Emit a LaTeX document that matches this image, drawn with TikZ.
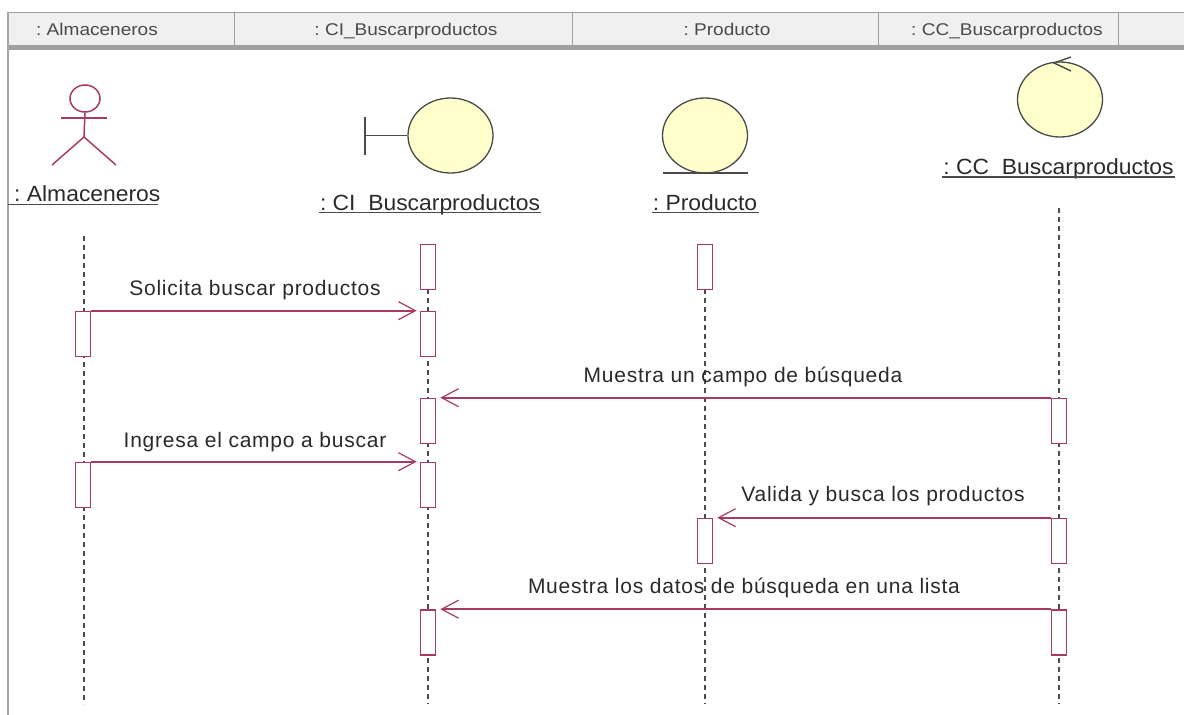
\documentclass[tikz,border=0pt]{standalone}
\usepackage{fontspec}
\setmainfont{Liberation Sans}
\usetikzlibrary{arrows.meta,shapes.geometric}
\definecolor{umlred}{HTML}{A83A62}
\definecolor{umlgray}{HTML}{4A4A4A}
\definecolor{umlfill}{HTML}{FFFFCB}
\definecolor{headbg}{HTML}{F0F0F0}
\definecolor{txt}{HTML}{2A2A2A}
\newfontfamily\headfont[FakeStretch=1.12]{Liberation Sans}
\newfontfamily\msgfont[LetterSpace=3.6]{Liberation Sans}
\newfontfamily\namefont[FakeStretch=1.04]{Liberation Sans}
\tikzset{
  x=1pt,y=-1pt,
  headcell/.style={draw=gray!75,line width=1.2pt,fill=headbg,minimum height=33pt,inner sep=0pt,anchor=north west},
  headtext/.style={text=txt!85,font=\headfont\fontsize{17}{19}\selectfont,inner sep=0pt,anchor=base},
  activation/.style={draw=umlred,line width=1.6pt,fill=white,minimum width=15pt,minimum height=45pt,inner sep=0pt},
  lifeline/.style={draw=umlgray,line width=1.5pt,dash pattern=on 5pt off 4pt},
  msg/.style={draw=umlred,line width=1.6pt,-{Straight Barb[length=17pt,width=18pt,line width=1.2pt]}},
  msglabel/.style={text=txt,font=\msgfont\fontsize{21}{23}\selectfont,inner sep=0pt},
  objname/.style={text=txt,font=\namefont\fontsize{22}{24}\selectfont,inner sep=0pt},
  objline/.style={draw=umlgray,line width=1.4pt},
  robust/.style={ellipse,draw=umlgray,line width=1.3pt,fill=umlfill,minimum width=85pt,minimum height=75pt,inner sep=0pt},
  actorline/.style={draw=umlred,line width=1.5pt},
}
\begin{document}
\frenchspacing
\begin{tikzpicture}
\useasboundingbox (0,0) rectangle (1184,715);
\fill[white] (0,0) rectangle (1184,715);
% frame and header
\node[headcell,minimum width=226pt] (h1) at (8,12) {};
\node[headcell,minimum width=338pt] (h2) at (234,12) {};
\node[headcell,minimum width=306pt] (h3) at (572,12) {};
\node[headcell,minimum width=240pt] (h4) at (878,12) {};
\node[headcell,minimum width=66pt] (h5) at (1118,12) {};
\fill[gray!75] (8,45) rectangle (1184,50);
\draw[gray!70,line width=1.4pt] (8,12) -- (8,715);
\node[headtext] (t1) at (97,35) {: Almaceneros};
\node[headtext] (t2) at (406,35) {: CI\_Buscarproductos};
\node[headtext] (t3) at (727,35) {: Producto};
\node[headtext] (t4) at (1007,35) {: CC\_Buscarproductos};
% actor
\node[ellipse,draw=umlred,line width=1.5pt,minimum width=30pt,minimum height=27pt,inner sep=0pt] (head) at (85,98.5) {};
\coordinate (hipA) at (84,137);
\coordinate (armL) at (61,118);
\coordinate (armR) at (107,118);
\coordinate (legL) at (52,165);
\coordinate (legR) at (116,165);
\draw[actorline] (head.south) -- (hipA);
\draw[actorline] (armL) -- (armR);
\draw[actorline] (legL) -- (hipA) -- (legR);
% boundary
\node[robust] (ci) at (450.5,135.5) {};
\coordinate (ciBar) at (365,135.5);
\draw[objline] (365,117) -- (365,155);
\draw[objline] (ciBar) -- (ci.west);
% entity
\node[robust] (pr) at (705,135.5) {};
\draw[objline] (663,173) -- (748,173);
% control
\node[robust] (cc) at (1060,99.5) {};
\draw[objline] (1071,57) -- (1054,63) -- (1071,71);
% names
\node[objname,anchor=base west] (n1) at (14,201) {: Almaceneros};
\draw[objline] (8,204.5) -- (158,204.5);
\node[objname,anchor=base] (n2) at (430,210) {: CI\ \ Buscarproductos};
\draw[objline] (319,212.5) -- (541,212.5);
\node[objname,anchor=base] (n3) at (705,210) {: Producto};
\draw[objline] (652,212.5) -- (759,212.5);
\node[objname,anchor=base] (n4) at (1058.5,174) {: CC\ \ Buscarproductos};
\draw[objline] (942,177) -- (1175,177);
% lifelines
\coordinate (l1t) at (84,236);\coordinate (l1b) at (84,704);
\coordinate (l2t) at (428,244);\coordinate (l2b) at (428,704);
\coordinate (l3t) at (705,244);\coordinate (l3b) at (705,704);
\coordinate (l4t) at (1059,208);\coordinate (l4b) at (1059,704);
\draw[lifeline] (l1t) -- (l1b);
\draw[lifeline] (l2t) -- (l2b);
\draw[lifeline] (l3t) -- (l3b);
\draw[lifeline] (l4t) -- (l4b);
% activations
\node[activation] (a1) at (83,334) {};
\node[activation] (a2) at (83,485) {};
\node[activation] (b0) at (428,267) {};
\node[activation] (b1) at (428,334) {};
\node[activation] (b2) at (428,421) {};
\node[activation] (b3) at (428,485) {};
\node[activation] (b4) at (428,632.5) {};
\node[activation] (c0) at (705,267) {};
\node[activation] (c1) at (705,541) {};
\node[activation] (d1) at (1059,421) {};
\node[activation] (d2) at (1059,541) {};
\node[activation] (d3) at (1059,632.5) {};
% messages
\draw[msg,shorten >=3pt] (a1.north east) -- (b1.north west);
\draw[msg,shorten >=4pt] (d1.north west) -- (b2.north east);
\draw[msg,shorten >=3pt] (a2.north east) -- (b3.north west);
\draw[msg,shorten >=4pt] (d2.north west) -- (c1.north east);
\draw[msg,shorten >=4pt] (d3.north west) -- (b4.north east);
% labels
\node[msglabel,anchor=base] (m1) at (255,295) {Solicita buscar productos};
\node[msglabel,anchor=base] (m2) at (743,382) {Muestra un campo de búsqueda};
\node[msglabel,anchor=base] (m3) at (255,447) {Ingresa el campo a buscar};
\node[msglabel,anchor=base] (m4) at (883,501) {Valida y busca los productos};
\node[msglabel,anchor=base] (m5) at (744,593) {Muestra los datos de búsqueda en una lista};
\end{tikzpicture}
\end{document}
